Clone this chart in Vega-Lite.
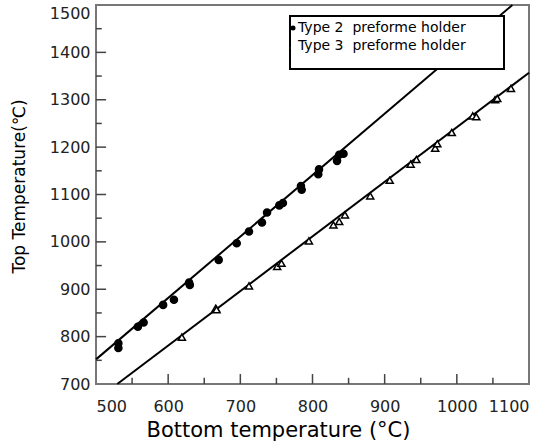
{
  "$schema": "https://vega.github.io/schema/vega-lite/v6.json",
  "autosize": "none",
  "width": 433,
  "height": 379,
  "padding": {"left": 96, "top": 5, "right": 17, "bottom": 62},
  "datasets": {
    "points": [
      {"series": "Type 2", "bottom": 531, "top": 786},
      {"series": "Type 2", "bottom": 531, "top": 776},
      {"series": "Type 2", "bottom": 558, "top": 821},
      {"series": "Type 2", "bottom": 566, "top": 830},
      {"series": "Type 2", "bottom": 593, "top": 867},
      {"series": "Type 2", "bottom": 608, "top": 878},
      {"series": "Type 2", "bottom": 629, "top": 914},
      {"series": "Type 2", "bottom": 630, "top": 909},
      {"series": "Type 2", "bottom": 670, "top": 962},
      {"series": "Type 2", "bottom": 695, "top": 997},
      {"series": "Type 2", "bottom": 712, "top": 1022},
      {"series": "Type 2", "bottom": 730, "top": 1041},
      {"series": "Type 2", "bottom": 737, "top": 1062},
      {"series": "Type 2", "bottom": 754, "top": 1077},
      {"series": "Type 2", "bottom": 759, "top": 1082},
      {"series": "Type 2", "bottom": 784, "top": 1118},
      {"series": "Type 2", "bottom": 785, "top": 1110},
      {"series": "Type 2", "bottom": 808, "top": 1143},
      {"series": "Type 2", "bottom": 809, "top": 1153},
      {"series": "Type 2", "bottom": 834, "top": 1171},
      {"series": "Type 2", "bottom": 837, "top": 1184},
      {"series": "Type 2", "bottom": 843, "top": 1186},
      {"series": "Type 3", "bottom": 619, "top": 799},
      {"series": "Type 3", "bottom": 666, "top": 860},
      {"series": "Type 3", "bottom": 667, "top": 857},
      {"series": "Type 3", "bottom": 712, "top": 907},
      {"series": "Type 3", "bottom": 751, "top": 948},
      {"series": "Type 3", "bottom": 757, "top": 955},
      {"series": "Type 3", "bottom": 795, "top": 1002},
      {"series": "Type 3", "bottom": 829, "top": 1036},
      {"series": "Type 3", "bottom": 837, "top": 1043},
      {"series": "Type 3", "bottom": 845, "top": 1057},
      {"series": "Type 3", "bottom": 880, "top": 1097},
      {"series": "Type 3", "bottom": 907, "top": 1130},
      {"series": "Type 3", "bottom": 936, "top": 1164},
      {"series": "Type 3", "bottom": 944, "top": 1174},
      {"series": "Type 3", "bottom": 970, "top": 1198},
      {"series": "Type 3", "bottom": 973, "top": 1207},
      {"series": "Type 3", "bottom": 993, "top": 1231},
      {"series": "Type 3", "bottom": 1022, "top": 1266},
      {"series": "Type 3", "bottom": 1027, "top": 1264},
      {"series": "Type 3", "bottom": 1053, "top": 1300},
      {"series": "Type 3", "bottom": 1056, "top": 1303},
      {"series": "Type 3", "bottom": 1075, "top": 1324}
    ],
    "fits": [
      {"series": "Type 2", "bottom": 500, "top": 752},
      {"series": "Type 2", "bottom": 1077, "top": 1500},
      {"series": "Type 3", "bottom": 529.5, "top": 700},
      {"series": "Type 3", "bottom": 1100, "top": 1357}
    ],
    "xmajor": [{"bottom": 600}, {"bottom": 700}, {"bottom": 800}, {"bottom": 900}, {"bottom": 1000}],
    "xminor": [{"bottom": 550}, {"bottom": 650}, {"bottom": 750}, {"bottom": 850}, {"bottom": 950}, {"bottom": 1050}],
    "ymajor": [{"top": 800}, {"top": 900}, {"top": 1000}, {"top": 1100}, {"top": 1200}, {"top": 1300}, {"top": 1400}],
    "yminor": [{"top": 750}, {"top": 850}, {"top": 950}, {"top": 1050}, {"top": 1150}, {"top": 1250}, {"top": 1350}, {"top": 1450}]
  },
  "layer": [
    {
      "data": {"name": "fits"},
      "mark": {"type": "line", "color": "black", "strokeWidth": 2},
      "encoding": {
        "x": {
          "field": "bottom", "type": "quantitative",
          "scale": {"domain": [500, 1100], "nice": false, "zero": false},
          "axis": {
            "title": "Bottom temperature (°C)",
            "format": "d",
            "values": [500, 600, 700, 800, 900, 1000, 1100],
            "ticks": false,
            "tickSize": 0,
            "domain": false,
            "labelPadding": 14,
            "titleX": 182,
            "titleY": 52,
            "titleBaseline": "alphabetic",
            "titleFontSize": 21
          }
        },
        "y": {
          "field": "top", "type": "quantitative",
          "scale": {"domain": [700, 1500], "nice": false, "zero": false},
          "axis": {
            "title": "Top Temperature(℃)",
            "format": "d",
            "values": [700, 800, 900, 1000, 1100, 1200, 1300, 1400, 1500],
            "ticks": false,
            "tickSize": 0,
            "domain": false,
            "labelPadding": 6,
            "labelBaseline": {"condition": {"test": "datum.value === 1500", "value": "top"}, "value": "middle"},
            "titleX": -77,
            "titleY": 181,
            "titleBaseline": "middle",
            "titleFontSize": 17
          }
        },
        "detail": {"field": "series"}
      }
    },
    {
      "data": {"name": "points"},
      "mark": {"type": "point", "stroke": "black", "strokeWidth": 1.5, "size": 50, "opacity": 1, "filled": false},
      "encoding": {
        "x": {"field": "bottom", "type": "quantitative"},
        "y": {"field": "top", "type": "quantitative"},
        "shape": {
          "field": "series", "type": "nominal",
          "scale": {"domain": ["Type 2", "Type 3"], "range": ["circle", "triangle-up"]},
          "legend": {
            "orient": "none",
            "legendX": 194,
            "legendY": 11,
            "title": "\u2800",
            "titleOrient": "bottom",
            "titleFontSize": 12,
            "titlePadding": 0,
            "labelLimit": 400,
            "symbolOffset": -9,
            "labelOffset": -2,
            "labelExpr": "datum.label + '\u00a0\u00a0preforme holder\u00a0\u00a0\u00a0\u00a0\u00a0\u2800'",
            "encode": {
              "symbols": {
                "update": {
                  "fill": {"signal": "datum.value === 'Type 2' ? 'black' : 'white'"},
                  "stroke": {"value": "black"},
                  "strokeWidth": {"value": 1},
                  "opacity": {"value": 1}
                }
              }
            }
          }
        },
        "fill": {
          "field": "series", "type": "nominal",
          "scale": {"domain": ["Type 2", "Type 3"], "range": ["black", "white"]},
          "legend": null
        }
      }
    },
    {
      "data": {"name": "xmajor"},
      "mark": {"type": "rule", "color": "#444", "strokeWidth": 1.5},
      "encoding": {
        "x": {"field": "bottom", "type": "quantitative"},
        "y": {"datum": 700},
        "y2": {"datum": 721}
      }
    },
    {
      "data": {"name": "xminor"},
      "mark": {"type": "rule", "color": "#444", "strokeWidth": 1.5},
      "encoding": {
        "x": {"field": "bottom", "type": "quantitative"},
        "y": {"datum": 700},
        "y2": {"datum": 713}
      }
    },
    {
      "data": {"name": "ymajor"},
      "mark": {"type": "rule", "color": "#444", "strokeWidth": 1.5},
      "encoding": {
        "y": {"field": "top", "type": "quantitative"},
        "x": {"datum": 500},
        "x2": {"datum": 514}
      }
    },
    {
      "data": {"name": "yminor"},
      "mark": {"type": "rule", "color": "#444", "strokeWidth": 1.5},
      "encoding": {
        "y": {"field": "top", "type": "quantitative"},
        "x": {"datum": 500},
        "x2": {"datum": 508}
      }
    }
  ],
  "config": {
    "view": {"stroke": "#777", "strokeWidth": 2},
    "axis": {
      "grid": false,
      "labelFont": "DejaVu Sans",
      "labelFontSize": 16,
      "labelColor": "#222",
      "titleFont": "DejaVu Sans",
      "titleFontWeight": "normal",
      "titleColor": "black",
      "labelOverlap": false
    },
    "legend": {
      "padding": 5,
      "strokeColor": "black",
      "strokeWidth": 2,
      "fillColor": "white",
      "labelFont": "DejaVu Sans",
      "labelFontSize": 14,
      "labelColor": "black",
      "rowPadding": 4,
      "symbolSize": 25,
      "symbolStrokeColor": "black",
      "symbolStrokeWidth": 1
    }
  }
}
